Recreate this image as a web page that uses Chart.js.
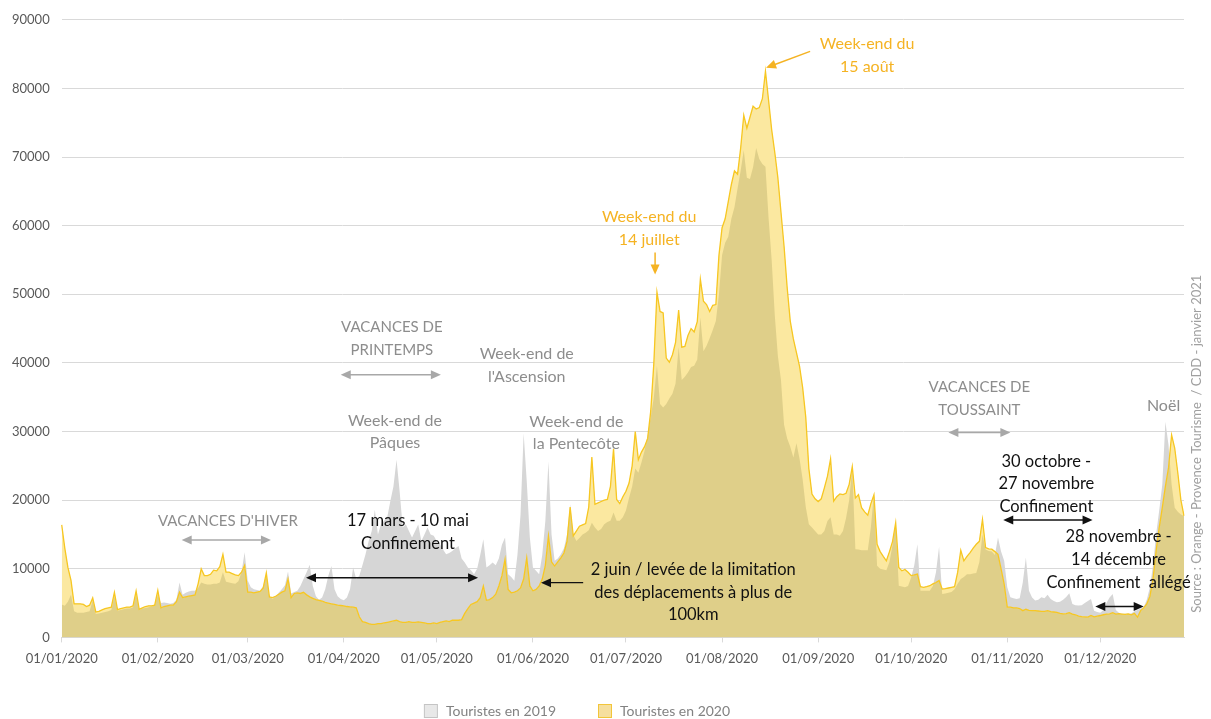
<!DOCTYPE html>
<html><head><meta charset="utf-8">
<script src="https://cdn.jsdelivr.net/npm/chart.js@4/dist/chart.umd.min.js"></script>
<style>html,body{margin:0;padding:0;background:#fff;}canvas{display:block;}</style>
</head><body>
<canvas id="c" width="1211" height="719"></canvas>
<script>
// ---- data ----
const firstDay = '2020-01-01';
const dayCount = 363;
const monthTicks = ['01/01/2020','01/02/2020','01/03/2020','01/04/2020','01/05/2020','01/06/2020','01/07/2020','01/08/2020','01/09/2020','01/10/2020','01/11/2020','01/12/2020'];
const yTicks = [0,10000,20000,30000,40000,50000,60000,70000,80000,90000];

const tourists2019 = [
// Jan
4800,4600,5200,6200,3800,3600,3600,3600,3700,3800,5400,3400,3500,3600,3700,3800,4000,6000,3900,4000,4100,4200,4200,4400,6300,4000,4200,4300,4400,4500,4600,
// Feb
6200,5000,5100,5000,4900,5000,5500,8000,6200,6500,6700,6800,6800,7200,8000,7800,7700,7700,7800,7800,8000,9500,8100,8000,7900,7800,8200,9500,12400,
// Mar
8300,7300,7000,6900,6800,7500,9300,6000,5600,6000,6500,7000,7600,9600,6400,6600,6800,7500,8500,9500,10600,7500,6000,5500,5800,7000,9000,10400,7000,6000,5600,
// Apr
5400,5800,7000,10200,8500,9000,10500,12100,14000,15500,18600,15000,16500,17000,17500,19850,22000,25900,21300,16000,16500,15500,14540,15500,16470,14050,15000,16000,15000,14800,
// May
14000,13570,12800,12100,12300,12600,13000,13330,11500,10900,10200,9800,9200,10000,12000,14300,10200,10500,10900,10500,11500,13500,14540,9200,8800,8260,12000,17900,29750,22750,14540,
// Jun
10200,9700,9200,12000,16950,25650,15000,11160,11500,12100,13000,15000,19400,15000,14050,14500,15000,15260,15600,16700,16000,15500,15800,16500,16800,17000,18200,17000,17000,17500,
// Jul
18500,20300,22000,24600,24000,25500,27200,29500,32100,35000,39600,34000,33500,34000,34800,35500,37000,42300,37500,38000,38600,39400,39600,40500,46600,41700,42500,43600,44800,46100,50000,
// Aug
55700,57500,58400,61000,62700,65400,68000,71000,67000,66800,68500,71300,69700,69000,68600,61100,55000,47000,41000,37500,31000,29000,27800,26200,28300,26000,23000,19000,16500,16000,15500,
// Sep
15000,15000,15500,16950,17500,15000,15000,14800,15500,17400,20000,24700,12850,12800,12700,12700,12700,16000,21000,10430,10000,9900,9800,11000,13500,16500,7530,7400,7300,7500,
// Oct
8740,10500,13570,6800,6800,6800,6800,7500,9500,13200,6330,6400,6500,6600,7000,7800,8500,8800,9200,9200,9300,9400,11000,15000,12800,12600,12500,12000,14540,12500,11160,
// Nov
7300,5840,5700,5600,5700,8000,11640,6800,5800,5360,5500,5840,5700,6200,5600,5300,5120,5200,5500,5900,6420,4880,4700,4640,4700,5000,5300,5600,3900,3700,
// Dec
3600,4000,5000,5800,6330,4000,3600,3450,3430,3430,3500,3800,4000,4200,4400,5500,7300,10500,15000,18500,22270,31440,28060,22270,18900,18300,17900,17700
];

const tourists2020 = [
// Jan
16400,13000,10200,8300,4900,4900,4900,4800,4500,4700,5750,3700,3800,4000,4200,4300,4400,6570,4050,4200,4300,4400,4400,4600,6760,4100,4300,4500,4600,4600,4700,
// Feb
6860,4300,4500,4600,4700,4700,5200,6600,5800,5900,6000,6100,6200,7800,10000,9000,9000,9200,9800,9700,10300,12100,9500,9500,9300,9100,9000,9500,10500,
// Mar
6600,6600,6500,6600,6700,7200,9400,5900,5800,6000,6300,6600,6800,8500,5800,6400,6500,6400,6570,6200,5900,5700,5500,5400,5300,5100,5000,4900,4800,4700,4650,
// Apr
4600,4500,4450,4400,4300,3000,2300,2200,2000,1900,1900,2000,2000,2100,2200,2300,2400,2500,2300,2200,2200,2300,2200,2200,2250,2200,2100,2000,2000,2100,
// May
2000,2200,2300,2400,2300,2500,2500,2500,2600,3500,4200,4800,5000,5200,5800,7500,5400,5500,5800,6300,7500,9000,11400,7000,6500,6600,6800,7200,8500,11600,7500,
// Jun
6800,7000,7500,8500,10500,14800,11000,10400,11000,11600,12300,14000,19000,14800,15500,16200,16400,16600,19000,26300,19400,19600,19800,20000,20100,22000,27500,20100,19500,20500,
// Jul
21300,22500,25000,30000,25900,27000,27800,29000,33000,40000,50300,47500,47300,40700,40100,41200,43000,47700,42300,42400,44000,45000,44500,46000,52200,49000,48500,47500,48400,48500,55700,
// Aug
59700,61000,63500,66000,68000,67500,71300,76100,74200,75800,77400,77000,77200,78500,82500,78300,74000,70700,67000,62000,57000,51000,46100,43500,41500,39500,36400,32100,24600,20900,20200,
// Sep
19800,20200,21800,23500,26000,19850,20500,20900,20800,21000,22300,24900,20300,20800,18900,18300,17800,19500,20800,13570,12500,11800,11160,12500,14000,16700,10200,9700,9900,9500,
// Oct
9000,9100,9220,7400,7300,7400,7530,7800,8000,8300,7050,7100,7200,7300,7400,9500,12700,11160,11800,12360,13000,13570,14000,17200,13100,12900,12850,12500,12100,10000,7780,
// Nov
4400,4400,4300,4300,4200,3900,4100,3950,3900,3900,3850,3800,3800,3900,3750,3700,3650,3500,3430,3450,3600,3400,3300,3100,3040,3000,2950,3200,3000,3100,
// Dec
3190,3300,3400,3430,3600,3400,3450,3400,3350,3430,3300,3500,2950,3900,4300,4880,6000,8500,12600,16000,18900,22000,24700,29500,27600,24000,20000,17700
];

const seriesNames = ['Touristes en 2019','Touristes en 2020'];

// ---- categories (one per day) ----
const days = [];
(function(){
  const d0 = new Date(firstDay + 'T00:00:00Z');
  for (let i = 0; i < dayCount; i++) {
    const d = new Date(d0.getTime() + i*86400000);
    const dd = String(d.getUTCDate()).padStart(2,'0');
    const mm = String(d.getUTCMonth()+1).padStart(2,'0');
    days.push(dd + '/' + mm + '/' + d.getUTCFullYear());
  }
})();

// ---- styles ----
const C_GREY = '#d6d6d6';
const C_KHAKI = '#dfcf89';
const C_LIGHT = '#fbe8a0';
const C_LINE = '#f7c722';
const C_ORANGE = '#f5b323';
const C_GREYTXT = '#8d8d8d';
const C_GREYARR = '#a8a8a8';
const C_BLACK = '#111111';
const FONT = 'Lato, "Open Sans", sans-serif';

// annotations anchored with day index / value
const notes = [
  {lines:["VACANCES D'HIVER"], day:53.6, value:16960, color:C_GREYTXT, size:15},
  {lines:['VACANCES DE','PRINTEMPS'], day:106.5, value:45200, color:C_GREYTXT, size:15},
  {lines:['Week-end de','Pâques'], day:107.5, value:31600, color:C_GREYTXT, size:16},
  {lines:['Week-end de',"l'Ascension"], day:150, value:41300, color:C_GREYTXT, size:16},
  {lines:['Week-end de','la Pentecôte'], day:166, value:31450, color:C_GREYTXT, size:16},
  {lines:['Week-end du','14 juillet'], day:189.5, value:61300, color:C_ORANGE, size:16},
  {lines:['Week-end du','15 août'], day:259.8, value:86500, color:C_ORANGE, size:16},
  {lines:['VACANCES DE','TOUSSAINT'], day:296, value:36400, color:C_GREYTXT, size:15},
  {lines:['Noël'], day:355.4, value:33770, color:C_GREYTXT, size:16},
  {lines:['17 mars - 10 mai','Confinement'], day:111.7, value:16960, color:C_BLACK, size:16.5},
  {lines:['2 juin / levée de la limitation','des déplacements à plus de','100km'], day:203.7, value:9860, color:C_BLACK, size:16.5},
  {lines:['30 octobre -','27 novembre','Confinement'], day:317.6, value:25650, color:C_BLACK, size:16.5},
  {lines:['28 novembre -','14 décembre','Confinement  allégé'], day:340.9, value:14640, color:C_BLACK, size:16.5}
];
const arrows = [
  {x1:38.7, y1:14200, x2:67.5, y2:14200, both:true, color:C_GREYARR, w:1.5},
  {x1:90, y1:38260, x2:122.3, y2:38260, both:true, color:C_GREYARR, w:1.5},
  {x1:286, y1:29860, x2:306, y2:29860, both:true, color:C_GREYARR, w:1.5},
  {x1:78.8, y1:8700, x2:134.3, y2:8700, both:true, color:C_BLACK, w:1.5},
  {x1:168.2, y1:7970, x2:154.6, y2:7970, both:false, color:C_BLACK, w:1.2},
  {x1:303.7, y1:17100, x2:332.5, y2:17100, both:true, color:C_BLACK, w:1.5},
  {x1:333.4, y1:4490, x2:349, y2:4490, both:true, color:C_BLACK, w:1.5},
  {x1:191.4, y1:56100, x2:191.4, y2:52900, both:false, color:C_ORANGE, w:1.5},
  {x1:241.4, y1:85400, x2:227.2, y2:83000, both:false, color:C_ORANGE, w:1.5}
];
const sourceText = 'Source : Orange - Provence Tourisme  / CDD - janvier 2021';

const legendFill = ['#e8e8e8', '#f6df9e'];
const legendStroke = ['#c4c4c4', '#f2c53a'];

function head(ctx, x1, y1, x2, y2, color) {
  const a = Math.atan2(y2-y1, x2-x1), L = 10, H = 4.5;
  ctx.beginPath();
  ctx.moveTo(x2, y2);
  ctx.lineTo(x2 - L*Math.cos(a) + H*Math.sin(a), y2 - L*Math.sin(a) - H*Math.cos(a));
  ctx.lineTo(x2 - L*Math.cos(a) - H*Math.sin(a), y2 - L*Math.sin(a) + H*Math.cos(a));
  ctx.closePath();
  ctx.fillStyle = color; ctx.fill();
}

const annotationPlugin = {
  id: 'notes',
  afterDraw(chart) {
    const ctx = chart.ctx, xs = chart.scales.x, ys = chart.scales.y;
    ctx.save();
    ctx.textAlign = 'center';
    ctx.textBaseline = 'middle';
    notes.forEach(n => {
      const x = xs.getPixelForValue(n.day), y = ys.getPixelForValue(n.value);
      ctx.font = n.size + 'px ' + FONT;
      ctx.fillStyle = n.color;
      n.lines.forEach((t, i) => ctx.fillText(t, x, y + i*22.7));
    });
    arrows.forEach(a => {
      const x1 = xs.getPixelForValue(a.x1), y1 = ys.getPixelForValue(a.y1);
      const x2 = xs.getPixelForValue(a.x2), y2 = ys.getPixelForValue(a.y2);
      ctx.strokeStyle = a.color; ctx.lineWidth = a.w;
      const ang = Math.atan2(y2-y1, x2-x1);
      const sx = a.both ? x1 + 8*Math.cos(ang) : x1, sy = a.both ? y1 + 8*Math.sin(ang) : y1;
      ctx.beginPath(); ctx.moveTo(sx, sy); ctx.lineTo(x2 - 8*Math.cos(ang), y2 - 8*Math.sin(ang)); ctx.stroke();
      head(ctx, x1, y1, x2, y2, a.color);
      if (a.both) head(ctx, x2, y2, x1, y1, a.color);
    });
    // legend (custom, below axis)
    ctx.font = '14px ' + FONT;
    ctx.textAlign = 'left';
    const widths = seriesNames.map(t => 13 + 9 + ctx.measureText(t).width);
    const total = widths[0] + 42 + widths[1];
    let lx = 577 - total/2;
    const ly = 704;
    seriesNames.forEach((t, i) => {
      ctx.fillStyle = legendFill[i];
      ctx.fillRect(lx + 0.5, ly + 0.5, 13, 13);
      ctx.strokeStyle = legendStroke[i]; ctx.lineWidth = 1;
      ctx.strokeRect(lx + 0.5, ly + 0.5, 13, 13);
      ctx.fillStyle = '#828282';
      ctx.fillText(t, lx + 22, ly + 7.5);
      lx += widths[i] + 42;
    });
    // vertical source text
    ctx.translate(chart.chartArea.right + 13, ys.getPixelForValue(3600));
    ctx.rotate(-Math.PI/2);
    ctx.textAlign = 'left';
    ctx.font = '13px ' + FONT;
    ctx.fillStyle = '#a0a0a0';
    ctx.fillText(sourceText, 0, 0);
    ctx.restore();
  }
};

new Chart(document.getElementById('c'), {
  type: 'line',
  data: {
    labels: days,
    datasets: [
      { label: seriesNames[0], data: tourists2019, borderColor: 'rgba(0,0,0,0)', borderWidth: 0,
        backgroundColor: C_GREY, pointRadius: 0, tension: 0,
        fill: { target: 1, above: C_GREY, below: C_LIGHT } },
      { label: seriesNames[1], data: tourists2020, borderColor: C_LINE, borderWidth: 1.3,
        backgroundColor: C_KHAKI, pointRadius: 0, tension: 0,
        fill: { target: 'origin', above: C_KHAKI } }
    ]
  },
  options: {
    responsive: false,
    animation: false,
    events: [],
    layout: { padding: { left: 0, right: 27, top: -6, bottom: 43 } },
    plugins: {
      filler: { drawTime: 'beforeDatasetsDraw', propagate: false },
      tooltip: { enabled: false },
      legend: { display: false }
    },
    scales: {
      x: {
        type: 'category',
        offset: false,
        grid: { display: true, drawOnChartArea: false, drawTicks: true, tickLength: 5, color: '#d9d9d9' },
        border: { display: true, color: '#d9d9d9' },
        ticks: {
          autoSkip: false, maxRotation: 0, minRotation: 0, padding: 9,
          color: '#595959', font: { family: FONT, size: 13 },
          callback: function(v) { const l = this.getLabelForValue(v); return monthTicks.includes(l) ? l : null; }
        }
      },
      y: {
        min: yTicks[0], max: yTicks[yTicks.length-1],
        afterBuildTicks: (axis) => { axis.ticks = yTicks.map(v => ({ value: v })); },
        grid: { color: '#d9d9d9', drawTicks: false },
        border: { display: false },
        ticks: { padding: 12, color: '#595959', font: { family: FONT, size: 13 },
                 callback: (v) => String(v) }
      }
    }
  },
  plugins: [annotationPlugin]
});
</script>
</body></html>
